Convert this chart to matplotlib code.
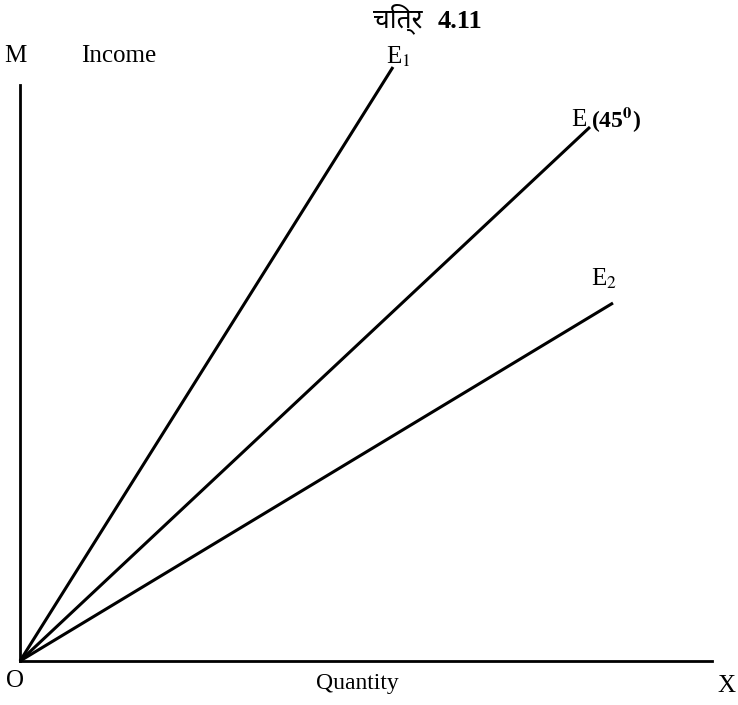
import matplotlib
matplotlib.use("Agg")
import matplotlib.pyplot as plt

plt.rcParams["mathtext.fontset"] = "stix"

# Data (end points of rays from origin, in axis units)
line_names = ["E1", "E45", "E2"]
x_end = [373, 570, 593]
y_end = [594, 534, 358]

W, H = 738, 705
fig = plt.figure(figsize=(W / 100, H / 100), dpi=100)
ox, oy = 20, 661
ax = fig.add_axes([ox / W, (H - oy) / H, 692 / W, 576 / H])
ax.set_xlim(0, 692)
ax.set_ylim(0, 576)
for s in ["top", "right"]:
    ax.spines[s].set_visible(False)
for s in ["left", "bottom"]:
    ax.spines[s].set_linewidth(2.0)
ax.set_xticks([])
ax.set_yticks([])

for xe, ye in zip(x_end, y_end):
    ax.plot([0, xe], [0, ye], color="black", lw=2.2, solid_capstyle="butt",
            clip_on=False)

serif = ["Liberation Serif", "DejaVu Serif"]
def px(x, y, s, **kw):
    fig.text(x / W, 1 - y / H, s, family=serif, color="black", **kw)

fig.text(423 / W, 1 - 19 / H, "चित्र", fontsize=19, fontweight="bold",
         ha="right", va="center", family=["Noto Sans", "DejaVu Sans"])
px(438, 21, "4.11", fontsize=19, fontweight="bold", ha="left", va="center")

px(15, 56, "M", fontsize=18, ha="center", va="center")
px(119, 56, "Income", fontsize=18, ha="center", va="center")
px(386, 57, r"E$_{\rm 1}$", fontsize=18, ha="left", va="center")
px(571, 120, "E", fontsize=18, ha="left", va="center")
px(591, 120, r"(45$^{\mathbf{0}}$)", fontsize=17, ha="left", va="center",
   fontweight="bold")
px(591, 279, r"E$_{\rm 2}$", fontsize=18, ha="left", va="center")
px(15, 681, "O", fontsize=18, ha="center", va="center")
px(357, 683, "Quantity", fontsize=17, ha="center", va="center")
px(726, 686, "X", fontsize=18, ha="center", va="center")

fig.savefig("out.png", dpi=100)
